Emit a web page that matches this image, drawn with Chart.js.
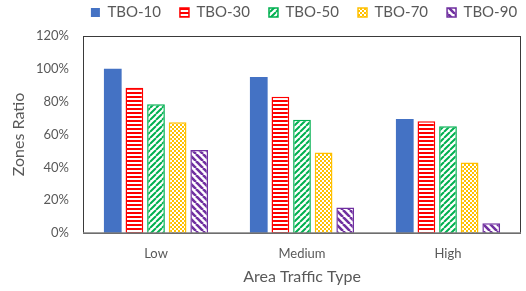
<!DOCTYPE html>
<html>
<head>
<meta charset="utf-8">
<script src="https://cdn.jsdelivr.net/npm/chart.js@4/dist/chart.umd.min.js"></script>
<style>
  html, body { margin: 0; padding: 0; background: #fff; }
  #wrap { width: 526px; height: 291px; position: relative; }
</style>
</head>
<body>
<div id="wrap"><canvas id="grafico"></canvas></div>
<script>
// Dados do gráfico
const categorias = ['Low', 'Medium', 'High'];
const series = ['TBO-10', 'TBO-30', 'TBO-50', 'TBO-70', 'TBO-90'];
const tbo10 = [100, 95, 69.5];
const tbo30 = [88.5, 83, 68];
const tbo50 = [78.5, 69, 65];
const tbo70 = [67.5, 49, 43];
const tbo90 = [50.5, 15.5, 6];
const ticksY = [0, 20, 40, 60, 80, 100, 120];

const cinza = '#595959';

// Padrões de preenchimento (hachuras)
function criarPadrao(tipo, cor) {
    const c = document.createElement('canvas');
    const g = c.getContext('2d');
    if (tipo === 'horizontal') {
        c.width = 4; c.height = 4;
        g.fillStyle = '#fff'; g.fillRect(0, 0, 4, 4);
        g.fillStyle = cor; g.fillRect(0, 0, 4, 2);
    } else if (tipo === 'xadrez') {
        c.width = 4; c.height = 4;
        g.fillStyle = '#fff'; g.fillRect(0, 0, 4, 4);
        g.fillStyle = cor;
        g.fillRect(0, 0, 2, 2); g.fillRect(2, 2, 2, 2);
    } else {
        const n = tipo === 'diagUp' ? 6 : 7;
        c.width = n; c.height = n;
        g.fillStyle = '#fff'; g.fillRect(0, 0, n, n);
        g.strokeStyle = cor;
        g.lineWidth = tipo === 'diagUp' ? 2 : 2.6;
        g.beginPath();
        for (let k = -1; k <= 1; k++) {
            if (tipo === 'diagUp') {
                g.moveTo(k * n, n); g.lineTo(k * n + n, 0);
            } else {
                g.moveTo(k * n, 0); g.lineTo(k * n + n, n);
            }
        }
        g.stroke();
    }
    return g.createPattern(c, 'repeat');
}

const cores = ['#4472C4', '#FF0000', '#00B050', '#FFC000', '#7030A0'];
const preenchimentos = [
    cores[0],
    criarPadrao('horizontal', cores[1]),
    criarPadrao('diagUp', cores[2]),
    criarPadrao('xadrez', cores[3]),
    criarPadrao('diagDown', cores[4])
];
const valores = [tbo10, tbo30, tbo50, tbo70, tbo90];

// Moldura da área do gráfico
const moldura = {
    id: 'moldura',
    afterLayout(chart) {
        // centraliza a legenda sobre a área de plotagem e sobe um pouco
        const a = chart.chartArea;
        const lg = chart.legend;
        const desloc = (a.left + a.right) / 2 - (lg.left + lg.right) / 2 + 2;
        lg.left += desloc;
        lg.right += desloc;
        lg.top -= 6;
        lg.bottom -= 6;
    },
    afterDatasetsDraw(chart) {
        const a = chart.chartArea;
        const ctx = chart.ctx;
        ctx.save();
        ctx.strokeStyle = '#3a3a3a';
        ctx.lineWidth = 1;
        ctx.strokeRect(a.left + 0.5, a.top + 0.5, a.right - a.left - 1, a.bottom - a.top);
        ctx.strokeStyle = '#808080';
        ctx.lineWidth = 1.5;
        ctx.beginPath();
        ctx.moveTo(a.left, a.bottom);
        ctx.lineTo(a.right, a.bottom);
        ctx.stroke();
        ctx.restore();
    }
};

Chart.defaults.font.family = "Lato, 'Open Sans', sans-serif";
Chart.defaults.color = cinza;

new Chart(document.getElementById('grafico').getContext('2d'), {
    type: 'bar',
    data: {
        labels: categorias,
        datasets: series.map((nome, i) => ({
            label: nome,
            data: valores[i],
            backgroundColor: preenchimentos[i],
            borderColor: i === 0 ? 'rgba(0,0,0,0)' : cores[i],
            borderWidth: i === 0 ? 0 : 1.5,
            categoryPercentage: 0.74,
            barPercentage: 0.82
        }))
    },
    options: {
        responsive: true,
        maintainAspectRatio: false,
        animation: false,
        layout: { padding: { left: 0, right: 5, top: -8, bottom: 0 } },
        plugins: {
            legend: {
                position: 'top',
                labels: {
                    boxWidth: 9,
                    boxHeight: 9,
                    padding: 19,
                    font: { size: 15 },
                    color: cinza
                }
            },
            tooltip: { enabled: false }
        },
        scales: {
            x: {
                grid: { display: false, drawTicks: false },
                border: { display: false },
                ticks: { font: { size: 13 }, padding: 13, color: cinza },
                title: { display: true, text: 'Area Traffic Type', font: { size: 16 }, color: cinza, padding: { top: 2, bottom: 5 } },
                afterFit(scale) { scale.height = 58; }
            },
            y: {
                min: 0,
                max: 120,
                afterBuildTicks(scale) { scale.ticks = ticksY.map(v => ({ value: v })); },
                grid: { display: false, drawTicks: false },
                border: { display: false },
                ticks: { font: { size: 13 }, padding: 14, color: cinza, callback: v => v + '%' },
                title: { display: true, text: 'Zones Ratio', font: { size: 16 }, color: cinza, padding: { top: 9, bottom: 4 } },
                afterFit(scale) { scale.width = 83; }
            }
        }
    },
    plugins: [moldura]
});
</script>
</body>
</html>
